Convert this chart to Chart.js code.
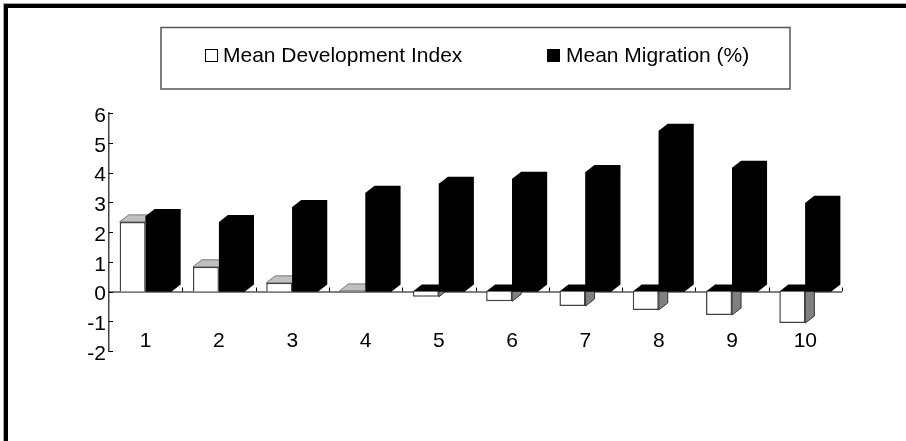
<!DOCTYPE html>
<html>
<head>
<meta charset="utf-8">
<script src="https://cdn.jsdelivr.net/npm/chart.js@4/dist/chart.umd.min.js"></script>
<style>
html, body { margin: 0; padding: 0; background: #fff; }
#wrap { width: 906px; height: 441px; }
</style>
</head>
<body>
<div id="wrap"><canvas id="chart"></canvas></div>
<script>
const categories = ['1', '2', '3', '4', '5', '6', '7', '8', '9', '10']
const developmentIndex = [2.34, 0.83, 0.29, 0.02, -0.18, -0.33, -0.49, -0.62, -0.79, -1.06]
const migration = [2.54, 2.34, 2.84, 3.32, 3.62, 3.79, 4.02, 5.4, 4.16, 2.98]

const FONT = '"Liberation Sans", Arial, sans-serif'
const DX = 9, DY = 7

function poly(ctx, pts, fill, stroke) {
  ctx.beginPath()
  pts.forEach((p, i) => i ? ctx.lineTo(p[0], p[1]) : ctx.moveTo(p[0], p[1]))
  ctx.closePath()
  ctx.fillStyle = fill
  ctx.fill()
  if (stroke) {
    ctx.lineWidth = 1
    ctx.strokeStyle = stroke
    ctx.stroke()
  }
}

// frame (top and left only), legend box and legend entries
const frame = {
  id: 'frame',
  beforeDraw(chart) {
    const ctx = chart.ctx
    ctx.save()
    ctx.fillStyle = '#fff'
    ctx.fillRect(0, 0, 906, 441)
    ctx.fillStyle = '#aaa'
    ctx.fillRect(3, 3, 903, 1)
    ctx.fillRect(3, 3, 1, 438)
    ctx.fillStyle = '#000'
    ctx.fillRect(4, 4, 902, 4)
    ctx.fillRect(4, 4, 4, 437)
    ctx.lineWidth = 1.5
    ctx.strokeStyle = '#555'
    ctx.strokeRect(161, 27.5, 629, 61.5)
    ctx.font = '21px ' + FONT
    ctx.textBaseline = 'middle'
    ctx.fillText(chart.data.datasets[0].label, 223, 56)
    ctx.fillText(chart.data.datasets[1].label, 566, 56)
    ctx.lineWidth = 1
    ctx.strokeStyle = '#000'
    ctx.strokeRect(205.5, 49.5, 12, 12)
    ctx.fillRect(547, 49, 13, 13)
    ctx.restore()
  }
}

// pseudo 3d faces taken from the bar elements, plus axis ticks
const depth = {
  id: 'depth',
  beforeDatasetsDraw(chart) {
    const ctx = chart.ctx
    const { x, y } = chart.scales
    const zero = y.getPixelForValue(0)
    ctx.save()
    // zero line and ticks sit behind the bars
    ctx.strokeStyle = '#000'
    ctx.lineWidth = 1
    ctx.beginPath()
    ctx.moveTo(x.left, zero + .5)
    ctx.lineTo(x.right, zero + .5)
    categories.forEach((c, i) => {
      const px = Math.round(x.getPixelForValue(i) + (x.right - x.left) / categories.length / 2) + .5
      ctx.moveTo(px, zero)
      ctx.lineTo(px, zero - 4)
    })
    y.ticks.forEach(t => {
      const py = Math.round(y.getPixelForValue(t.value)) + .5
      ctx.moveTo(x.left, py)
      ctx.lineTo(x.left + 4, py)
    })
    ctx.stroke()

    chart.getDatasetMeta(0).data.forEach((b, i) => {
      const l = b.x - b.width / 2, r = b.x + b.width / 2
      if (developmentIndex[i] >= 0) {
        poly(ctx, [[l, b.y], [l + DX, b.y - DY], [r + DX, b.y - DY], [r, b.y]], '#c0c0c0', '#777')
      } else {
        poly(ctx, [[l, zero], [l + DX, zero - DY], [r + DX, zero - DY], [r, zero]], '#000')
        poly(ctx, [[r, zero], [r + DX, zero - DY], [r + DX, b.y - DY], [r, b.y]], '#808080', '#333')
      }
    })
    chart.getDatasetMeta(1).data.forEach(b => {
      const l = b.x - b.width / 2, r = b.x + b.width / 2
      poly(ctx, [[l, b.y], [l + DX, b.y - DY], [r + DX, b.y - DY], [r + DX, zero - DY], [r, zero], [l, zero]], '#000')
    })
    ctx.restore()
  }
}

new Chart(document.getElementById('chart'), {
  type: 'bar',
  data: {
    labels: categories,
    datasets: [{
      label: 'Mean Development Index',
      data: developmentIndex,
      backgroundColor: '#fff',
      borderColor: '#444',
      borderWidth: 1.5,
      barPercentage: 1,
      categoryPercentage: 0.71
    }, {
      label: 'Mean Migration (%)',
      data: migration,
      backgroundColor: '#000',
      borderColor: '#000',
      borderWidth: 0,
      barPercentage: 1,
      categoryPercentage: 0.71
    }]
  },
  options: {
    responsive: true,
    maintainAspectRatio: false,
    animation: false,
    devicePixelRatio: 1,
    layout: { padding: { left: 70, right: 64, top: 113, bottom: 90 } },
    plugins: { legend: { display: false }, tooltip: { enabled: false } },
    scales: {
      x: {
        // tick labels hang above the -2 line, so the axis sits inside the plot
        position: { y: -0.99 },
        grid: { display: false },
        border: { display: false },
        ticks: { color: '#000', font: { family: FONT, size: 21 }, padding: 0, maxRotation: 0 }
      },
      y: {
        min: -2,
        max: 6,
        afterFit(s) { s.width = 39 },
        grid: { display: false, drawTicks: false },
        border: { display: true, color: '#444', width: 1.5 },
        ticks: { stepSize: 1, labelOffset: 3, color: '#000', font: { family: FONT, size: 21 }, padding: 3 }
      }
    }
  },
  plugins: [frame, depth]
})
</script>
</body>
</html>
